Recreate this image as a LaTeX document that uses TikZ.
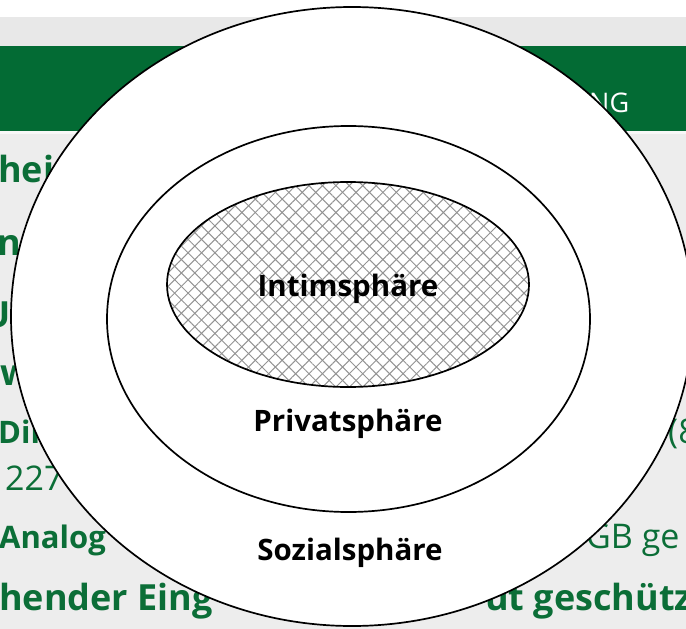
\documentclass[tikz,border=0pt]{standalone}
\usepackage{fontspec}
\setmainfont{Open Sans}
\usetikzlibrary{patterns.meta}
\definecolor{bargreen}{HTML}{036B34}
\definecolor{textgreen}{HTML}{0B6E37}
\definecolor{slidegray}{HTML}{EDEDED}
\definecolor{bandgray}{HTML}{E8E8E8}
\newcommand{\sphereellipse}[3]% center, xdim, ydim
{(#1) ellipse (#2 and #3)
}

\begin{document}
\begin{tikzpicture}[x=1pt,y=-1pt,
  bgbold/.style={text=textgreen,inner sep=0pt,anchor=base west,font=\fontsize{36}{40}\selectfont\bfseries},
  bgsmall/.style={text=textgreen,inner sep=0pt,anchor=base west,font=\fontsize{31}{36}\selectfont\bfseries},
  bgplain/.style={text=textgreen,inner sep=0pt,anchor=base west,font=\fontsize{34}{36}\selectfont},
  spherelabel/.style={inner sep=0pt,anchor=base,font=\fontsize{29.5}{32}\selectfont\bfseries},
  ring/.style={draw=black,line width=1.7pt,fill=white}]
  \useasboundingbox (0,0) rectangle (686,629);
  % slide behind the picture
  \fill[white] (0,0) rectangle (686,17);
  \fill[bandgray] (0,17) rectangle (686,46);
  \fill[bargreen] (0,46) rectangle (686,131);
  \fill[slidegray] (0,131) rectangle (686,629);
  \fill[white!60!slidegray] (0,131) rectangle (686,134);
  \node[inner sep=0pt,anchor=base west,text=white,font=\fontsize{27}{30}\selectfont] (bartext) at (589,112) {NG};
  \node[bgbold] (row1) at (-2,182) {hei};
  \node[bgbold] (row2) at (-3,255) {n};
  \node[bgbold] (row3) at (-17,327) {U};
  \node[bgbold] (row4) at (0,385) {w};
  \node[bgsmall] (row5) at (-2,443) {Dir};
  \node[bgplain] (row5r) at (668,443) {(8};
  \node[bgplain] (row6) at (5,490) {227};
  \node[bgsmall] (row7) at (-1,548) {Analog};
  \node[bgplain] (row7r) at (586,548) {GB ge};
  \node[bgbold] (row8) at (-1,610) {hender Eing};
  \node[bgbold] (row8r) at (485,610) {ut geschütz};
  % the three spheres
  \draw[ring] \sphereellipse{352,316.5}{341}{309.5};
  \draw[ring] \sphereellipse{348.5,319}{241.5}{193};
  \fill[white] \sphereellipse{348,284.5}{181}{102.5};
  \fill[pattern={Lines[angle=45,distance=9.5pt,line width=1pt]},pattern color=gray!85] \sphereellipse{348,284.5}{181}{102.5};
  \fill[pattern={Lines[angle=-45,distance=9.5pt,line width=1pt]},pattern color=gray!85] \sphereellipse{348,284.5}{181}{102.5};
  \draw[line width=1.7pt] \sphereellipse{348,284.5}{181}{102.5};
  \node[spherelabel] (intim) at (348,296) {Intimsphäre};
  \node[spherelabel] (privat) at (348,431) {Privatsphäre};
  \node[spherelabel] (sozial) at (350,560) {Sozialsphäre};
\end{tikzpicture}
\end{document}
